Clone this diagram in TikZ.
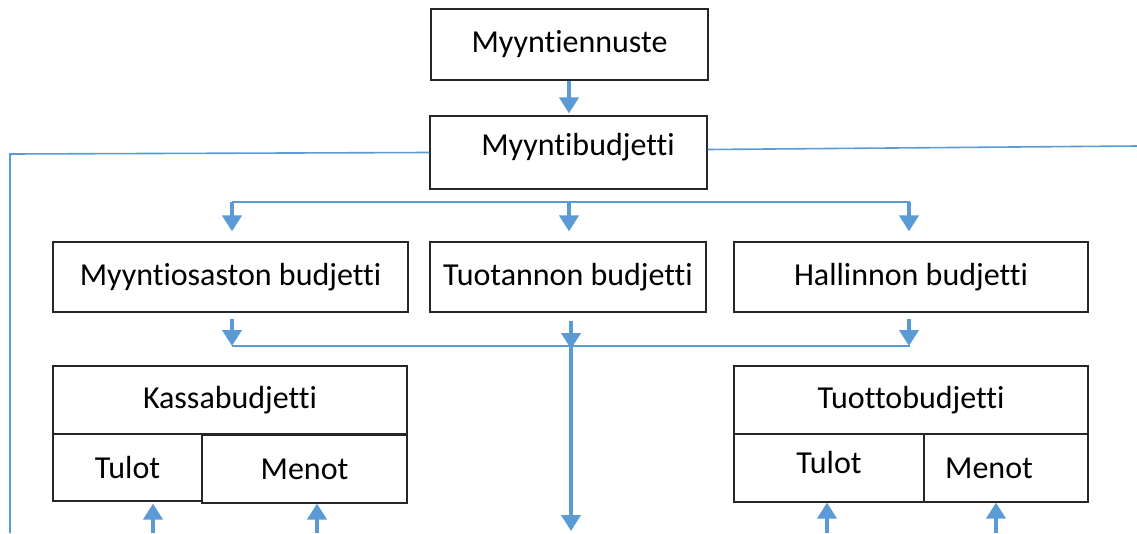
\documentclass[tikz,border=0pt]{standalone}
\usepackage{fontspec}
\setmainfont{Carlito}[Ligatures=NoCommon]
\usetikzlibrary{arrows.meta}
\definecolor{officeblue}{RGB}{91,155,213}

\begin{document}
\begin{tikzpicture}[x=1pt, y=-1pt, font=\fontsize{32}{38}\selectfont,
  box/.style={draw=black!85, line width=1.2pt, rectangle, inner sep=0pt},
  flow/.style={officeblue, line width=4pt, -{Triangle[width=19pt,length=16pt]}},
  link/.style={officeblue, line width=1.6pt}]
  \useasboundingbox (0,0) rectangle (1137,533);
  % ylin taso
  \node[box, minimum width=277pt, minimum height=71pt] (ennuste) at (569.5,44.5) {Myyntiennuste};
  \node[box, minimum width=277pt, minimum height=73pt] (myynti) at (568.5,152.5) {\kern19pt\raisebox{16pt}{Myyntibudjetti}};
  % osastojen budjetit
  \node[box, minimum width=355pt, minimum height=70pt] (osasto) at (230.5,277) {Myyntiosaston budjetti};
  \node[box, minimum width=276pt, minimum height=70pt] (tuotanto) at (568,277) {Tuotannon budjetti};
  \node[box, minimum width=354pt, minimum height=70pt] (hallinto) at (911,277) {Hallinnon budjetti};
  % kassabudjetti
  \node[box, minimum width=354pt, minimum height=68pt] (kassa) at (230,400) {Kassabudjetti};
  \node[box, minimum width=149pt, minimum height=67pt] (ktulot) at (127.5,467.5) {Tulot};
  \node[box, minimum width=205pt, minimum height=68pt] (kmenot) at (304.5,469) {Menot};
  % tuottobudjetti
  \node[box, minimum width=354pt, minimum height=68pt] (tuotto) at (911,400) {Tuottobudjetti};
  \node[box, minimum width=190pt, minimum height=68pt] (ttulot) at (829,468) {\raisebox{12pt}{Tulot}};
  \node[box, minimum width=164pt, minimum height=68pt] (tmenot) at (1006,468) {Menot\kern34pt};

  \coordinate (jako) at (569,202);
  \coordinate (kokoa) at (571,346);
  \coordinate (vasen) at (10,533);
  \coordinate (oikea) at (1137,146);
  \coordinate (alas) at (571,533);

  \draw[flow] (ennuste.south -| jako) -- ([yshift=2pt]myynti.north -| jako);
  \draw[link] (myynti.west) -- (vasen |- 0,154) -- (vasen);
  \draw[link] ([yshift=3pt]myynti.east) -- (oikea);

  \draw[link] (jako -| 232,0) -- (jako -| 910,0);
  \draw[flow] (jako -| 232,0) -- ([yshift=10pt]osasto.north -| 232,0);
  \draw[flow] (jako) -- ([yshift=10pt]tuotanto.north -| jako);
  \draw[flow] (jako -| 909,0) -- ([yshift=10pt]hallinto.north -| 909,0);

  \draw[flow] ([yshift=-6pt]osasto.south -| 232,0) -- (kokoa -| 232,0);
  \draw[flow] ([yshift=-8pt]tuotanto.south -| kokoa) -- ([yshift=-3pt]kokoa);
  \draw[flow] ([yshift=-6pt]hallinto.south -| 909,0) -- (kokoa -| 909,0);
  \draw[link] (kokoa -| 232,0) -- (kokoa -| 910,0);
  \draw[flow] (kokoa) -- ([yshift=2pt]alas);

  \draw[flow] (153,533) -- ([yshift=-2pt]ktulot.south -| 153,0);
  \draw[flow] (317,533) -- (kmenot.south -| 317,0);
  \draw[flow] (827,533) -- (ttulot.south -| 827,0);
  \draw[flow] (996,533) -- (tmenot.south -| 996,0);
\end{tikzpicture}
\end{document}
